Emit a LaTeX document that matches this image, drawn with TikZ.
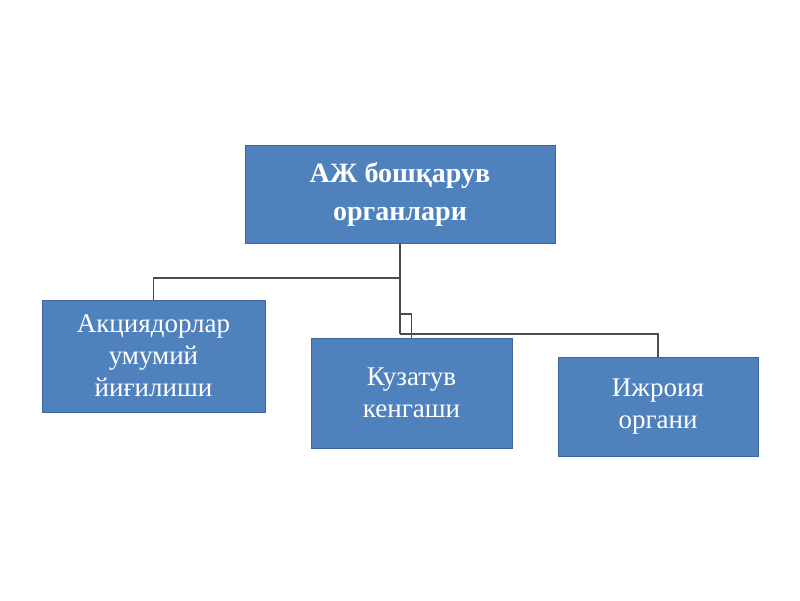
\documentclass[tikz,border=0pt]{standalone}
\usepackage{fontspec}
\setmainfont{Liberation Serif}
\usetikzlibrary{positioning}
\definecolor{boxblue}{HTML}{4F81BD}
\begin{document}
\begin{tikzpicture}
    [x=1pt, y=-1pt, outer sep = 0pt, unit/.style={rectangle, fill =
      boxblue, draw=boxblue!80!black, thin, text=white, align=center,
      inner sep = 0pt, font=\fontsize{27}{32}\selectfont},
    link/.style={draw=black!70, line width=1.2pt}]

    \useasboundingbox (0,0) rectangle (800,600);

    \node [unit, minimum width=310, minimum height=98,
    font=\fontsize{28}{38}\selectfont\bfseries] (board) at (400,194)
    {АЖ бошқарув\\органлари};
    \node [unit, minimum width=223, minimum height=112] (meeting) at (153.5,356)
    {Акциядорлар\\умумий\\йиғилиши};
    \node [unit, minimum width=201, minimum height=110] (council) at (411.5,393)
    {Кузатув\\кенгаши};
    \node [unit, minimum width=200, minimum height=99] (exec) at (658,406.5)
    {Ижроия\\органи};

    \coordinate (hub) at (400,334);
    \draw [link] (board.south) -- (hub);
    \draw [link] (board.south |- 0,278) -| (meeting.north);
    \draw [link] (board.south |- 0,314) -| (council.north);
    \draw [link] (hub) -| (exec.north);
  \end{tikzpicture}
\end{document}
